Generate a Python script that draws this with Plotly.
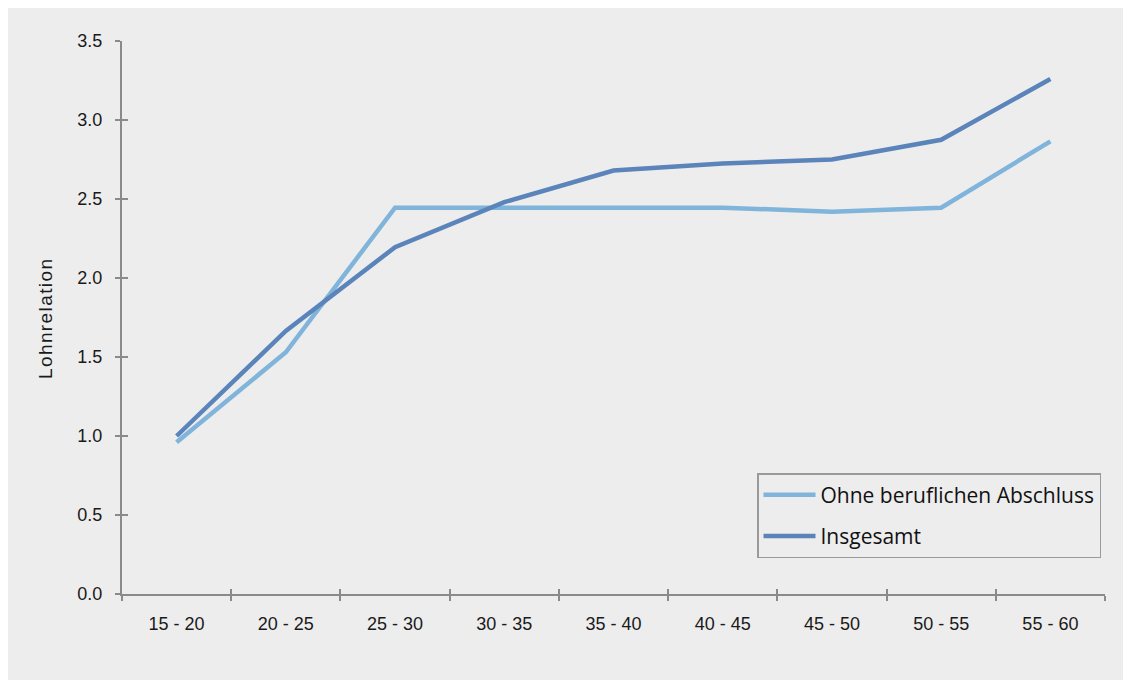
import plotly.graph_objects as go

categories = ["15 - 20", "20 - 25", "25 - 30", "30 - 35", "35 - 40", "40 - 45", "45 - 50", "50 - 55", "55 - 60"]
ohne = [0.96, 1.53, 2.445, 2.445, 2.445, 2.445, 2.42, 2.445, 2.865]
insgesamt = [1.0, 1.665, 2.195, 2.48, 2.68, 2.725, 2.75, 2.875, 3.26]

# page body adds 8px margin; figure fills the rest
W, H = 1123, 672
L, R, T, B = 114, 26, 33, 86
pw, ph = W - L - R, H - T - B
bg = "#ededed"
axis_col = "#8a8a8a"

fig = go.Figure()
fig.add_trace(go.Scatter(x=categories, y=ohne, mode="lines", name="Ohne beruflichen Abschluss",
                         line=dict(color="#80b4da", width=4.5), legendgroup="a"))
fig.add_trace(go.Scatter(x=categories, y=insgesamt, mode="lines", name="Insgesamt",
                         line=dict(color="#5b84bb", width=4.5), legendgroup="b"))
# invisible trace to draw the inner half of the crossing tick marks
fig.add_trace(go.Scatter(x=categories, y=insgesamt, mode="lines", xaxis="x2", yaxis="y2",
                         line=dict(width=0), showlegend=False, hoverinfo="skip", opacity=0))

fig.update_layout(
    width=W, height=H,
    margin=dict(l=L, r=R, t=T, b=B),
    paper_bgcolor=bg, plot_bgcolor=bg,
    showlegend=True,
    font=dict(family="Liberation Sans, Arial, sans-serif", size=18, color="#1a1a1a"),
    xaxis=dict(type="category", range=[-0.5, 8.5], tickson="boundaries", ticks="outside",
               ticklen=5, tickwidth=1.5, tickcolor=axis_col, showline=True, linecolor=axis_col,
               linewidth=2, showgrid=False, zeroline=False, tickfont=dict(size=18),
               ticklabelstandoff=12),
    yaxis=dict(range=[0, 3.5], dtick=0.5, tickformat=".1f", ticks="outside", ticklen=5,
               tickwidth=1.5, tickcolor=axis_col, showline=True, linecolor=axis_col, linewidth=2,
               showgrid=False, zeroline=False, tickfont=dict(size=18), ticklabelstandoff=9),
    xaxis2=dict(type="category", range=[-0.5, 8.5], tickson="boundaries", ticks="inside",
                ticklen=5, tickwidth=1.5, tickcolor=axis_col, showticklabels=False,
                overlaying="x", anchor="y2", showgrid=False, zeroline=False, showline=False),
    yaxis2=dict(range=[0, 3.5], dtick=0.5, ticks="inside", ticklen=6, tickwidth=1.5,
                tickcolor=axis_col, showticklabels=False, overlaying="y", anchor="x2",
                side="left", showgrid=False, zeroline=False, showline=False),
    legend=dict(x=(749 - L) / pw, y=(586 - 465) / ph, xanchor="left", yanchor="top",
                bgcolor="rgba(0,0,0,0)", bordercolor="#9a9a9a", borderwidth=1.5,
                font=dict(family="Open Sans, sans-serif", size=21, color="#111"),
                traceorder="grouped", tracegroupgap=11, itemwidth=52),
    annotations=[dict(text='<span style="letter-spacing:1.4px">Lohnrelation</span>', textangle=-90,
                      xref="paper", yref="paper",
                      x=(37 - L) / pw, y=(586 - 311) / ph, xanchor="center", yanchor="middle",
                      showarrow=False, font=dict(size=19, family="Liberation Sans, Arial, sans-serif"))],
)

fig.write_html("out.html")
